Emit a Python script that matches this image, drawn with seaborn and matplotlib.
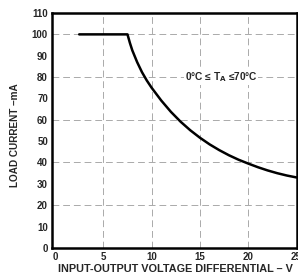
"""
Load current vs input-output voltage differential (datasheet style chart).
"""

import matplotlib
matplotlib.use('Agg')
import matplotlib.pyplot as plt
import seaborn as sns
import pandas as pd

# Curve values
voltage = [2.5, 7.5, 7.75, 8, 8.5, 9, 9.5, 10, 11, 12, 13, 14, 15, 16, 17,
           18, 19, 20, 21, 22, 23, 24, 25]
current = [100, 100, 96, 92.5, 87, 82.3, 78.4, 75, 69, 63.7, 59.1, 55.1, 51.6, 48.5, 45.8,
           43.4, 41.3, 39.5, 37.8, 36.3, 35, 33.9, 33]

x_ticks = [0, 5, 10, 15, 20, 25]
y_ticks = [0, 10, 20, 30, 40, 50, 60, 70, 80, 90, 100, 110]
grid_x = [5, 10, 15, 20]
grid_y = [20, 40, 60, 80, 100]

df = pd.DataFrame({'voltage': voltage, 'current': current})

sns.set_style('white')
plt.rcParams['font.family'] = ['Liberation Sans', 'DejaVu Sans']

fig = plt.figure(figsize=(2.98, 2.77), dpi=100)
ax = fig.add_axes([0.175, 0.105, 0.82, 0.848])

# Dashed grey grid
for gx in grid_x:
    ax.axvline(gx, color='#aaaaaa', lw=0.7, ls=(0, (7, 4)), zorder=1)
for gy in grid_y:
    ax.axhline(gy, color='#aaaaaa', lw=0.7, ls=(0, (7, 4)), zorder=1)

sns.lineplot(data=df, x='voltage', y='current', color='black', lw=1.8, ax=ax, zorder=3)

ax.set_xlim(-0.3, 25)
ax.set_ylim(0, 110)
ax.set_xticks(x_ticks)
ax.set_yticks(y_ticks)
ax.tick_params(length=0, labelsize=7, pad=3)
for lbl in ax.get_xticklabels() + ax.get_yticklabels():
    lbl.set_fontweight('bold')

for side in ['left', 'right', 'top', 'bottom']:
    ax.spines[side].set_visible(True)
    ax.spines[side].set_color('black')
    ax.spines[side].set_linewidth(1.8)

ax.set_xlabel('INPUT-OUTPUT VOLTAGE DIFFERENTIAL – V', fontsize=7.8, fontweight='bold')
ax.set_ylabel('LOAD CURRENT –mA', fontsize=7.2, fontweight='bold')
ax.xaxis.set_label_coords(0.505, -0.07)
ax.yaxis.set_label_coords(-0.13, 0.48)

ax.text(17.2, 80, '0°C ≤ T$_\\mathbf{A}$ ≤70°C', fontsize=7.3, fontweight='bold',
        ha='center', va='center', zorder=2,
        bbox=dict(facecolor='white', edgecolor='none', pad=0.5))

fig.savefig('out.png', dpi=100)
